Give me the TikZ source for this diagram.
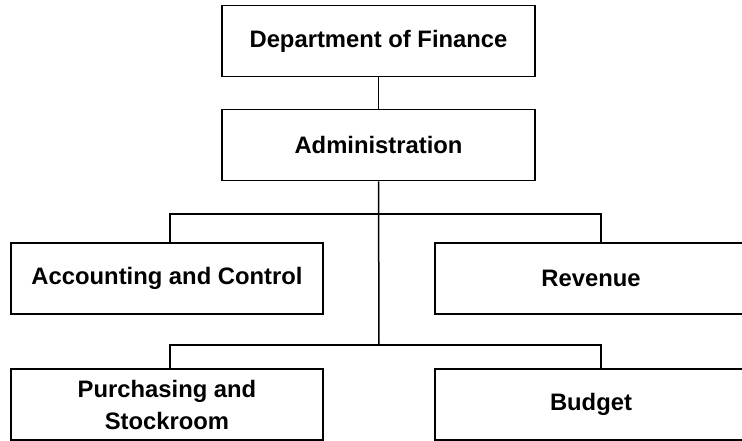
\documentclass[tikz,border=0pt]{standalone}
\usepackage{fontspec}
\setmainfont{Liberation Sans}
\usetikzlibrary{positioning}

\begin{document}
\begin{tikzpicture}[
  x=1pt, y=-1pt,
  unit/.style={rectangle, draw=black, line width=1.5pt, minimum width=312pt,
    minimum height=71pt, inner sep=0pt, align=center,
    font=\bfseries\fontsize{23.8}{32}\selectfont},
  link/.style={line width=1.5pt, black}
]
\clip (0,0) rectangle (742,440);
\useasboundingbox (0,0) rectangle (742,440);

% top of the chart
\node[unit, minimum width=313pt] (dept)  at (378.5,41)  {Department of Finance};
\node[unit, minimum width=313pt] (admin) at (378.5,145) {Administration};

% the four offices
\node[unit] (acct)   at (167,278.5) {Accounting and Control};
\node[unit] (rev)    at (591,278.5) {Revenue};
\node[unit] (purch)  at (167,404.5) {Purchasing and\\Stockroom};
\node[unit] (budget) at (591,404.5) {Budget};

% branch points on the trunk
\coordinate (b1) at (379,214);
\coordinate (b2) at (379,345);

\draw[link] (dept.south) -- (admin.north);
\draw[link] (admin.south) -- (b2);
\draw[link] ([xshift=3pt]acct.north) |- (b1) -| ([xshift=10pt]rev.north);
\draw[link] ([xshift=3pt]purch.north) |- (b2) -| ([xshift=10pt]budget.north);
\end{tikzpicture}
\end{document}
